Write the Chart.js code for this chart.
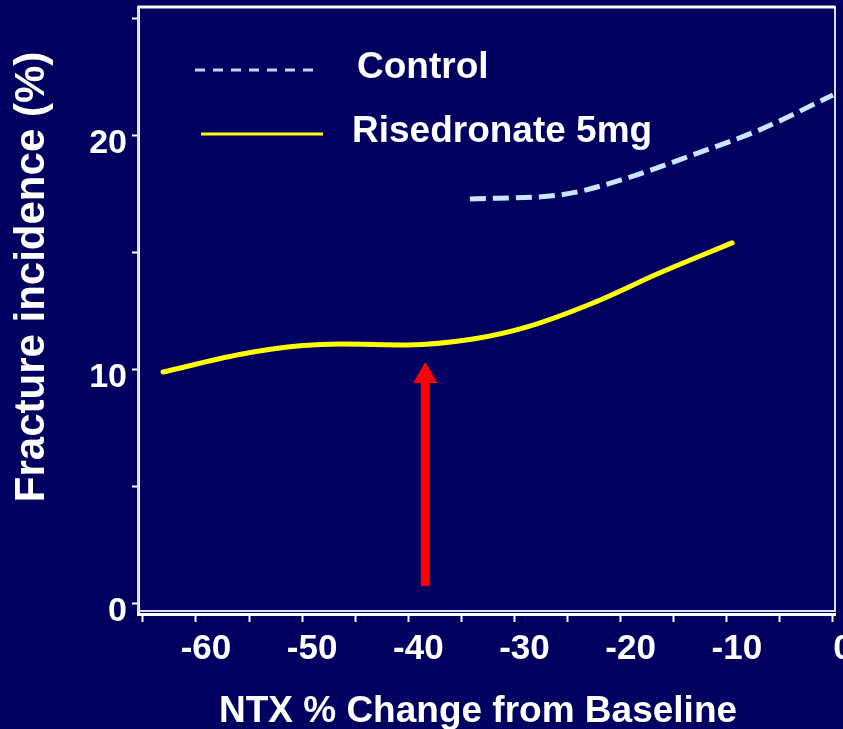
<!DOCTYPE html>
<html>
<head>
<meta charset="utf-8">
<script src="https://cdn.jsdelivr.net/npm/chart.js@4/dist/chart.umd.min.js"></script>
<style>
body{margin:0;background:#000060;}
#wrap{width:843px;height:729px;position:relative;}
</style>
</head>
<body>
<div id="wrap"><canvas id="myChart"></canvas></div>
<script>
// values
var ctrlX = [-34.2, -25.7, -19.4, -13.2, -6.9, 0];
var ctrlY = [17.31, 17.48, 18.2, 19.19, 20.26, 21.75];
var riseX = [-63.1, -55.9, -50.2, -46.4, -40.1, -33.9, -28.8, -22.6, -16.3, -9.5];
var riseY = [9.91, 10.66, 11.03, 11.11, 11.07, 11.32, 11.84, 12.86, 14.15, 15.43];
var arrowX = [-38.4, -38.4];
var arrowY = [0.77, 9.74];
var seriesNames = ['Control', 'Risedronate 5mg'];
var xTickValues = [-65, -60, -55, -50, -45, -40, -35, -30, -25, -20, -15, -10, -5, 0];
var xTickLabels = ['', '-60', '', '-50', '', '-40', '', '-30', '', '-20', '', '-10', '', '0'];
var yTickValues = [0, 5, 10, 15, 20, 25];
var yTickLabels = ['0', '', '10', '', '20', ''];
var xTitle = 'NTX % Change from Baseline';
var yTitle = 'Fracture incidence (%)';

var FONT = '"Liberation Sans", Arial, sans-serif';

function pts(xs, ys){
    var out = [];
    for(var i=0;i<xs.length;i++){ out.push({x:xs[i], y:ys[i]}); }
    return out;
}

var framePlugin = {
    id: 'frame',
    beforeDatasetsDraw: function(chart){
        var ctx = chart.ctx, a = chart.chartArea;
        ctx.save();
        ctx.strokeStyle = '#dcdcf0';
        ctx.lineWidth = 2;
        ctx.strokeRect(a.left, a.top, a.right - a.left, a.bottom - a.top - 3);
        ctx.strokeStyle = '#ffffff';
        ctx.lineWidth = 3;
        ctx.beginPath();
        ctx.moveTo(a.left, a.top);
        ctx.lineTo(a.right, a.top);
        ctx.stroke();
        ctx.restore();
    },
    afterDraw: function(chart){
        var ctx = chart.ctx;
        var ds = chart.data.datasets;
        ctx.save();
        // legend
        ctx.lineWidth = 3;
        ctx.strokeStyle = '#c0d8ff';
        ctx.setLineDash([10, 8]);
        ctx.beginPath(); ctx.moveTo(195, 70); ctx.lineTo(320, 70); ctx.stroke();
        ctx.setLineDash([]);
        ctx.strokeStyle = ds[1].borderColor;
        ctx.beginPath(); ctx.moveTo(201, 134); ctx.lineTo(323, 134); ctx.stroke();
        ctx.fillStyle = '#ffffff';
        ctx.font = 'bold 37px ' + FONT;
        ctx.textAlign = 'left';
        ctx.textBaseline = 'alphabetic';
        ctx.fillText(ds[0].label, 357, 78);
        ctx.fillText(ds[1].label, 352, 142);
        // axis titles
        ctx.font = 'bold 37px ' + FONT;
        ctx.textAlign = 'center';
        ctx.fillText(xTitle, 478, 722);
        ctx.translate(44, 277);
        ctx.rotate(-Math.PI/2);
        ctx.font = 'bold 42px ' + FONT;
        ctx.fillText(yTitle, 0, 0);
        ctx.restore();
    }
};

new Chart("myChart", {
    type: "line",
    data: {
        datasets: [{
            label: seriesNames[0],
            data: pts(ctrlX, ctrlY),
            borderColor: '#c8e6ff',
            borderWidth: 5,
            borderDash: [16, 7],
            pointRadius: 0,
            cubicInterpolationMode: 'monotone',
            fill: false
        }, {
            label: seriesNames[1],
            data: pts(riseX, riseY),
            borderColor: '#ffff00',
            borderWidth: 5,
            borderCapStyle: 'round',
            pointRadius: 0,
            cubicInterpolationMode: 'monotone',
            fill: false
        }, {
            label: 'arrow',
            data: pts(arrowX, arrowY),
            borderColor: '#ff0000',
            borderWidth: 9,
            borderCapStyle: 'butt',
            pointRadius: [0, 14],
            pointStyle: 'triangle',
            pointBackgroundColor: '#ff0000',
            pointBorderWidth: 0,
            fill: false
        }]
    },
    options: {
        responsive: true,
        maintainAspectRatio: false,
        animation: false,
        events: [],
        layout: { autoPadding: false, padding: { left: 0, top: 7, right: 8, bottom: 0 } },
        plugins: { legend: { display: false }, tooltip: { enabled: false } },
        scales: {
            x: {
                type: 'linear',
                min: -65.46,
                max: 0.19,
                afterBuildTicks: function(scale){
                    scale.ticks = xTickValues.map(function(v){ return {value: v}; });
                },
                afterFit: function(scale){
                    scale.height = 115;
                    scale.paddingLeft = 0;
                    scale.paddingRight = 0;
                },
                border: { display: true, color: '#ffffff', width: 3 },
                grid: { display: true, drawOnChartArea: false, drawTicks: true, tickLength: 8, tickColor: '#ffffff', tickWidth: 2 },
                ticks: {
                    autoSkip: false,
                    maxRotation: 0,
                    padding: 6,
                    labelOffset: 10,
                    color: '#ffffff',
                    font: { family: FONT, size: 35, weight: 'bold' },
                    callback: function(v, i){ return xTickLabels[i]; }
                }
            },
            y: {
                type: 'linear',
                min: -0.43,
                max: 25.51,
                afterBuildTicks: function(scale){
                    scale.ticks = yTickValues.map(function(v){ return {value: v}; });
                },
                afterFit: function(scale){
                    scale.width = 138;
                    scale.paddingTop = 0;
                    scale.paddingBottom = 0;
                },
                border: { display: true, color: '#ffffff', width: 3 },
                grid: { display: true, drawOnChartArea: false, drawTicks: true, tickLength: 6, tickColor: '#ffffff', tickWidth: 2 },
                ticks: {
                    autoSkip: false,
                    padding: 5,
                    labelOffset: 8,
                    color: '#ffffff',
                    font: { family: FONT, size: 34, weight: 'bold' },
                    callback: function(v, i){ return yTickLabels[i]; }
                }
            }
        }
    },
    plugins: [framePlugin]
});
</script>
</body>
</html>
